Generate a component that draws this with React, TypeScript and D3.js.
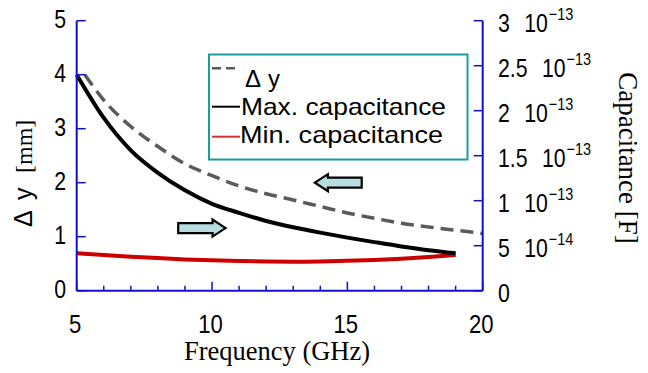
import React from "react";
import * as d3 from "d3";

const W = 648;
const H = 373;

// Frequency (GHz) for capacitance curves
const freqCap = [5, 6, 7, 8, 9, 10, 11, 12, 13, 14, 15, 16, 17, 18, 19];
// Capacitance in units of 1e-13 F
const maxCap = [2.4, 1.92, 1.56, 1.31, 1.115, 0.965, 0.865, 0.775, 0.705, 0.645, 0.59, 0.54, 0.492, 0.45, 0.416];
const minCap = [0.416, 0.396, 0.378, 0.362, 0.348, 0.338, 0.33, 0.324, 0.322, 0.325, 0.332, 0.342, 0.356, 0.374, 0.397];
// Delta y (mm)
const freqDy = [5.3, 6, 7, 8, 9, 10, 11, 12, 13, 14, 15, 16, 17, 18, 19, 20];
const deltaY = [4.0, 3.53, 3.04, 2.67, 2.35, 2.13, 1.94, 1.795, 1.68, 1.56, 1.44, 1.34, 1.25, 1.18, 1.12, 1.06];

const xTicksMajor = [5, 10, 15, 20];
const xTicksAll = [5, 6, 7, 8, 9, 10, 11, 12, 13, 14, 15, 16, 17, 18, 19, 20];
const leftTicks = [0, 1, 2, 3, 4, 5];
const rightTicks = [0, 0.5, 1, 1.5, 2, 2.5, 3];
const rightMant = ["0", "5", "1", "1.5", "2", "2.5", "3"];
const rightExp = ["", "−14", "−13", "−13", "−13", "−13", "−13"];

const legendLabels = ["Δ", "Max. capacitance", "Min. capacitance"];

// arrow annotations (data units: freq, delta y)
const arrowLeft = { tip: 13.8, tail: 15.53, y: 2.0 };
const arrowRight = { tip: 10.5, tail: 8.75, y: 1.16 };

const AXIS = "#1010c8";
const TICKFONT = "'Liberation Sans', Arial, sans-serif";
const SERIF = "'Liberation Serif', 'Times New Roman', serif";
const SANS = "'Liberation Sans', Arial, sans-serif";
const NARROW = 0.85;

export default function App() {
  const x0 = 76.7, x1 = 482.7, y0 = 290.7, y1 = 20.7;
  const x = d3.scaleLinear().domain([5, 20]).range([x0, x1]);
  const yL = d3.scaleLinear().domain([0, 5]).range([y0, y1]);
  const yR = d3.scaleLinear().domain([0, 3]).range([y0, y1]);

  const lineCap = d3
    .line<number>()
    .x((_, i) => x(freqCap[i]))
    .y((d) => yR(d))
    .curve(d3.curveMonotoneX);
  const lineDy = d3
    .line<number>()
    .x((_, i) => x(freqDy[i]))
    .y((d) => yL(d))
    .curve(d3.curveMonotoneX);

  const arrowPath = (tipF: number, tailF: number, yv: number) => {
    const tx = x(tipF);
    const bx = x(tailF);
    const cy = yL(yv);
    const dir = bx > tx ? 1 : -1;
    const hl = 13;
    const bh = 5;
    const hh = 8.5;
    const hx = tx + dir * hl;
    return `M${tx},${cy} L${hx},${cy - hh} L${hx},${cy - bh} L${bx},${cy - bh} L${bx},${cy + bh} L${hx},${cy + bh} L${hx},${cy + hh} Z`;
  };

  return (
    <svg width={W} height={H} style={{ position: "absolute", left: 0, top: 0, background: "#fff" }}>
      {/* curves */}
      <path d={lineCap(minCap) || ""} fill="none" stroke="#cc0000" strokeWidth={4} />
      <path d={lineCap(maxCap) || ""} fill="none" stroke="#000" strokeWidth={4} />
      <path d={lineDy(deltaY) || ""} fill="none" stroke="#5a5a5a" strokeWidth={3.5} strokeDasharray="13,7" />

      {/* arrows */}
      <path d={arrowPath(arrowLeft.tip, arrowLeft.tail, arrowLeft.y)} fill="#b8dde0" stroke="#000" strokeWidth={2.2} strokeLinejoin="miter" />
      <path d={arrowPath(arrowRight.tip, arrowRight.tail, arrowRight.y)} fill="#b8dde0" stroke="#000" strokeWidth={2.2} strokeLinejoin="miter" />

      {/* axes */}
      <line x1={x0} x2={x0} y1={y1} y2={y0} stroke={AXIS} strokeWidth={2} />
      <line x1={x1} x2={x1} y1={y1} y2={y0} stroke={AXIS} strokeWidth={2} />
      <line x1={x0} x2={x1} y1={y0} y2={y0} stroke={AXIS} strokeWidth={2} />
      {xTicksAll.map((t) => (
        <line key={"xt" + t} x1={x(t)} x2={x(t)} y1={y0} y2={y0 - (xTicksMajor.includes(t) ? 9 : 5)} stroke={AXIS} strokeWidth={1.5} />
      ))}
      {leftTicks.map((t) => (
        <line key={"lt" + t} x1={x0} x2={x0 + 9} y1={yL(t)} y2={yL(t)} stroke={AXIS} strokeWidth={1.5} />
      ))}
      {rightTicks.map((t) => (
        <line key={"rt" + t} x1={x1} x2={x1 - 9} y1={yR(t)} y2={yR(t)} stroke={AXIS} strokeWidth={1.5} />
      ))}

      {/* tick labels */}
      {xTicksMajor.map((t) => (
        <g key={"xl" + t} transform={`translate(${x(t) - 1.5},333) scale(${NARROW},1)`}>
          <text textAnchor="middle" fontFamily={TICKFONT} fontSize={26} fill="#000">
            {t}
          </text>
        </g>
      ))}
      {leftTicks.map((t) => (
        <g key={"ll" + t} transform={`translate(66,${yL(t) + 7}) scale(${NARROW},1)`}>
          <text textAnchor="end" fontFamily={TICKFONT} fontSize={25} fill="#000">
            {t}
          </text>
        </g>
      ))}
      {rightTicks.map((t, i) => (
        <g key={"rl" + t} transform={`translate(498,${yR(t) + 11}) scale(${NARROW},1)`}>
          <text fontFamily={TICKFONT} fontSize={25} fill="#000">
            <tspan>{rightMant[i]}</tspan>
            {rightExp[i] && (
              <>
                <tspan dx={17}>10</tspan>
                <tspan dx={1} dy={-12} fontSize={17}>
                  {rightExp[i]}
                </tspan>
              </>
            )}
          </text>
        </g>
      ))}

      {/* axis titles */}
      <text x={277} y={360} textAnchor="middle" fontFamily={SERIF} fontSize={26.5} fill="#000">
        Frequency (GHz)
      </text>
      <text transform={`translate(619,158) rotate(90)`} textAnchor="middle" fontFamily={SERIF} fontSize={27} fill="#000">
        Capacitance [F]
      </text>
      <text transform={`translate(32,227) rotate(-90)`} fontSize={25} fill="#000">
        <tspan x={0} fontFamily={SANS}>Δ</tspan>
        <tspan x={27} fontFamily={SANS}>y</tspan>
        <tspan x={54} fontFamily={SERIF} fontSize={24}>[mm]</tspan>
      </text>

      {/* legend */}
      <rect x={209} y={54.5} width={258.5} height={105} fill="#fff" stroke="#1a9e9a" strokeWidth={2} />
      <line x1={212} x2={237} y1={68.3} y2={68.3} stroke="#5a5a5a" strokeWidth={2.5} strokeDasharray="9,5" />
      <line x1={212} x2={240} y1={106.7} y2={106.7} stroke="#000" strokeWidth={2} />
      <line x1={212} x2={240} y1={136.7} y2={136.7} stroke="#cc3333" strokeWidth={2} />
      <text y={87} fontFamily={SANS} fontSize={24} fill="#000">
        <tspan x={245}>{legendLabels[0]}</tspan>
        <tspan x={268}>y</tspan>
      </text>
      <text x={241} y={115} fontFamily={SANS} fontSize={24} fill="#000" textLength={205} lengthAdjust="spacingAndGlyphs">
        {legendLabels[1]}
      </text>
      <text x={240} y={143} fontFamily={SANS} fontSize={24} fill="#000" textLength={203} lengthAdjust="spacingAndGlyphs">
        {legendLabels[2]}
      </text>
    </svg>
  );
}
